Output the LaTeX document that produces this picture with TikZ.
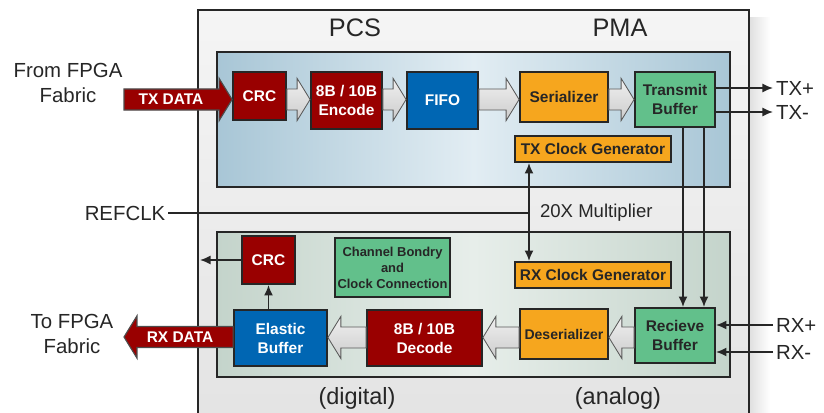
\documentclass[tikz,border=0pt]{standalone}
\usepackage{fontspec}
\setmainfont{Liberation Sans}
\usetikzlibrary{arrows.meta,calc}

\definecolor{xred}{RGB}{153,0,0}
\definecolor{xblue}{RGB}{0,102,179}
\definecolor{xorange}{RGB}{246,166,30}
\definecolor{xgreen}{RGB}{98,192,139}
\definecolor{txleft}{RGB}{168,198,214}
\definecolor{txmid}{RGB}{226,237,243}
\definecolor{rxleft}{RGB}{196,212,203}
\definecolor{rxmid}{RGB}{231,238,234}

\newcommand{\px}{0.025cm}
\newcommand{\fatarrow}[3][grayarr]{%
  \path[#1] let \p1=(#2), \p2=(#3), \n1={(\x2>\x1)*18.4-9.2} in
    (\x1,\y1+7.5pt) -- ({\x2-\n1*1pt},\y1+7.5pt) -- ({\x2-\n1*1pt},\y1+15pt) -- (\x2,\y1)
    -- ({\x2-\n1*1pt},\y1-15pt) -- ({\x2-\n1*1pt},\y1-7.5pt) -- (\x1,\y1-7.5pt) -- cycle;}

\tikzset{
  sz/.style 2 args={minimum width=#1*\px, minimum height=#2*\px},
  blk/.style={draw=black!85, line width=1.3pt, align=center, inner sep=1pt,
    font=\bfseries\fontsize{11}{13.5}\selectfont},
  redblk/.style={blk, fill=xred, text=white},
  blueblk/.style={blk, fill=xblue, text=white},
  orgblk/.style={blk, fill=xorange, text=black!85},
  grnblk/.style={blk, fill=xgreen, text=black!85},
  lbl/.style={text=black!85, inner sep=2pt, align=center, font=\fontsize{14.5}{17.5}\selectfont},
  sig/.style={draw=black!85, line width=1.3pt},
  tip/.style={sig, -{Latex[length=7.5pt,width=6.5pt]}},
  grayarr/.style={draw=gray!70!black, line width=0.6pt, top color=gray!12, bottom color=gray!40},
  redarr/.style={draw=black!70, line width=0.8pt, fill=xred},
}

\begin{document}
\begin{tikzpicture}[x=\px,y=-\px]
  \clip (0,0) rectangle (824,413);

  % frames
  \fill[left color=black!12, right color=white] (750,18) rectangle (770,430);
  \filldraw[draw=black!85, line width=1.5pt, top color=gray!8, bottom color=gray!22] (198,10) rectangle (749,430);
  \filldraw[draw=black!85, line width=1.4pt, left color=txleft, right color=txleft, middle color=txmid] (217,52) rectangle (730,187);
  \filldraw[draw=black!85, line width=1.4pt, left color=rxleft, right color=rxleft, middle color=rxmid] (217,232) rectangle (730,377);

  \node[lbl, font=\fontsize{18}{20}\selectfont] (pcs) at (355,28) {PCS};
  \node[lbl, font=\fontsize{18}{20}\selectfont] (pma) at (620,28) {PMA};
  \node[lbl, font=\fontsize{16.7}{19}\selectfont] (digital) at (357,398) {(digital)};
  \node[lbl, font=\fontsize{16.7}{19}\selectfont] (analog) at (618,398) {(analog)};

  % transmit side
  \node[redblk, sz={53}{48}] (crctx) at (259.5,96) {CRC};
  \node[redblk, sz={71}{57}] (enc) at (346.5,100.5) {8B / 10B\\Encode};
  \node[blueblk, sz={71}{57}] (fifo) at (442.5,100.5) {FIFO};
  \node[orgblk, sz={88}{50}] (ser) at (564,97) {Serializer};
  \node[grnblk, sz={80}{55}] (txbuf) at (675,99.5) {Transmit\\Buffer};
  \node[orgblk, sz={156}{26}] (txclk) at (593,149) {TX Clock Generator};

  % receive side
  \node[redblk, sz={53}{48}] (crcrx) at (268.5,260) {CRC};
  \node[grnblk, sz={115}{59}, font=\bfseries\fontsize{9.2}{11.3}\selectfont] (bond) at (392.5,267.5) {Channel Bondry\\and\\Clock Connection};
  \node[orgblk, sz={156}{26}] (rxclk) at (593,275) {RX Clock Generator};
  \node[blueblk, sz={93}{56}] (elastic) at (280.5,338) {Elastic\\Buffer};
  \node[redblk, sz={115}{56}] (dec) at (424.5,338) {8B / 10B\\Decode};
  \node[orgblk, sz={88}{50}, font=\bfseries\fontsize{10}{13}\selectfont] (deser) at (564,334) {Deserializer};
  \node[grnblk, sz={80}{55}] (rxbuf) at (675,335.5) {Recieve\\Buffer};

  % outside labels
  \node[lbl] (from) at (68,83) {From FPGA\\Fabric};
  \node[lbl] (to) at (72,334) {To FPGA\\Fabric};
  \node[lbl] (refclk) at (125,213) {REFCLK};
  \node[lbl, anchor=west, font=\fontsize{13.2}{15}\selectfont] (mult) at (537,213) {20X Multiplier};
  \node[lbl, anchor=west] (txp) at (773,88) {TX+};
  \node[lbl, anchor=west] (txm) at (773,112) {TX-};
  \node[lbl, anchor=west] (rxp) at (773,325) {RX+};
  \node[lbl, anchor=west] (rxm) at (773,352) {RX-};

  \coordinate (txrow) at (0,99.5);
  \coordinate (rxrow) at (0,337.5);
  \coordinate (txin) at (124,99.5);
  \coordinate (rxout) at (124,337);
  \coordinate (clk) at (529,213);
  \coordinate (crcout) at (200,260);

  % data paths
  \fatarrow[redarr]{txin}{crctx.west |- txrow}
  \node[font=\bfseries\fontsize{11}{13}\selectfont, text=white] (txdata) at (171,99.5) {TX DATA};
  \fatarrow{crctx.east |- txrow}{enc.west |- txrow}
  \fatarrow{enc.east |- txrow}{fifo.west |- txrow}
  \fatarrow{fifo.east |- txrow}{ser.west |- txrow}
  \fatarrow{ser.east |- txrow}{txbuf.west |- txrow}

  \fatarrow{rxbuf.west |- rxrow}{deser.east |- rxrow}
  \fatarrow{deser.west |- rxrow}{dec.east |- rxrow}
  \fatarrow{dec.west |- rxrow}{elastic.east |- rxrow}
  \fatarrow[redarr]{elastic.west |- rxout}{rxout}
  \node[font=\bfseries\fontsize{11}{13}\selectfont, text=white] (rxdata) at (180,337) {RX DATA};

  % signals
  \draw[tip] (txbuf.east |- txp) -- (txp.west);
  \draw[tip] (txbuf.east |- txm) -- (txm.west);
  \draw[tip] (rxp.west) -- (rxbuf.east |- rxp);
  \draw[tip] (rxm.west) -- (rxbuf.east |- rxm);
  \draw[tip] ($(txbuf.south)+(8,0)$) -- ($(rxbuf.north)+(8,0)$);
  \draw[tip] ($(txbuf.south)+(29,0)$) -- ($(rxbuf.north)+(29,0)$);
  \draw[sig] (refclk.east) -- (clk);
  \draw[tip] (clk) -- (txclk.south -| clk);
  \draw[tip] (clk) -- (rxclk.north -| clk);
  \draw[tip] (crcrx.south |- elastic.north) -- (crcrx.south);
  \draw[tip] (crcrx.west) -- (crcout);
\end{tikzpicture}
\end{document}
